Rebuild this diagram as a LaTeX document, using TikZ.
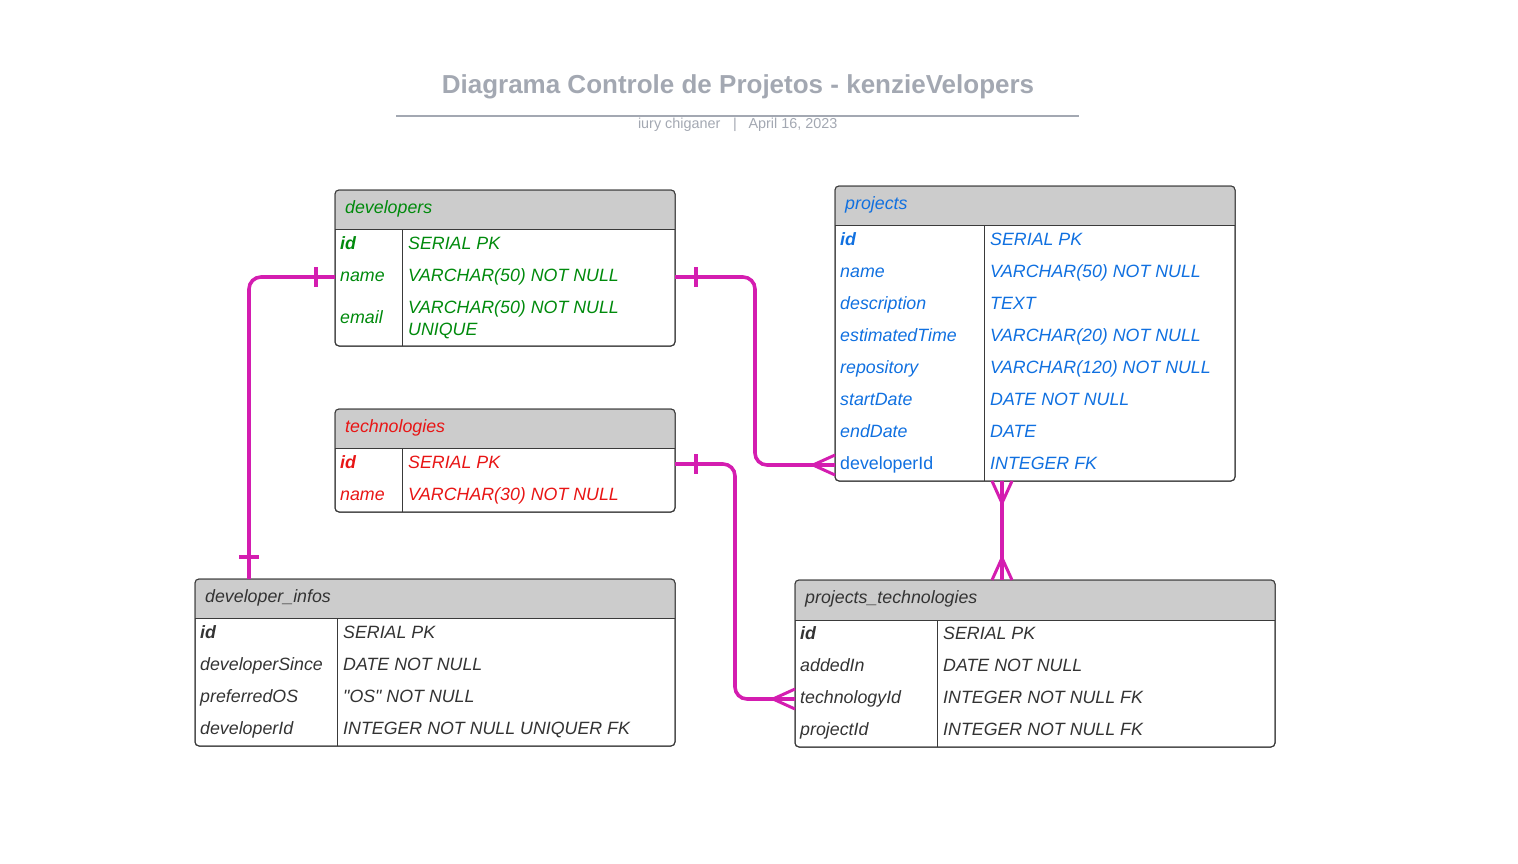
\documentclass[tikz,border=0pt]{standalone}
\usepackage{fontspec}
\setmainfont{Liberation Sans}[Ligatures=TeXOff]
\usetikzlibrary{calc}
\definecolor{ttlc}{HTML}{A3A8B2}
\definecolor{grnc}{HTML}{008A0C}
\definecolor{bluc}{HTML}{1070E0}
\definecolor{redc}{HTML}{E81515}
\definecolor{drkc}{HTML}{333333}
\definecolor{bordc}{HTML}{3A3A3A}
\definecolor{hdrc}{HTML}{CCCCCC}
\definecolor{relc}{HTML}{D41DB0}
\tikzset{
  x=1pt, y=-1pt,
  tblbox/.style={draw=bordc, line width=1pt, rounded corners=4pt, outer sep=0pt, inner sep=0pt, anchor=north west},
  divl/.style={draw=bordc, line width=1pt},
  cell/.style={anchor=base west, inner sep=0pt, font=\fontsize{17.8}{21}\selectfont\itshape},
  keyb/.style={cell, font=\fontsize{17.8}{21}\selectfont\bfseries\itshape},
  subt/.style={font=\fontsize{14.4}{16}\selectfont, text=ttlc},
  rel/.style={draw=relc, line width=3.6pt},
}
\newcommand\mytable[7]{% name, x, y, w, h, header height, divider offset
  \node[tblbox, minimum width=#4pt, minimum height=#5pt] (#1) at (#2,#3) {};
  \begin{scope}
    \clip[rounded corners=4pt] (#1.north west) rectangle (#1.south east);
    \fill[hdrc] (#1.north west) rectangle ([yshift=-#6pt]#1.north east);
  \end{scope}
  \draw[divl] ([yshift=-#6pt]#1.north west) -- ([yshift=-#6pt]#1.north east);
  \draw[divl] ([xshift=#7pt,yshift=-#6pt]#1.north west) -- ([xshift=#7pt]#1.south west);
  \node[tblbox, minimum width=#4pt, minimum height=#5pt, fill=none] at (#2,#3) {};
}
\newcommand\crowH[2]{% end point, direction (+1 box on right, -1 box on left)
  \draw[rel, line width=3pt] (#1) ++(-22*#2,0) -- ++(22*#2,-10) (#1) ++(-22*#2,0) -- ++(22*#2,10);}
\newcommand\crowV[2]{% end point, direction (+1 box below, -1 box above)
  \draw[rel, line width=3pt] (#1) ++(0,-22*#2) -- ++(-10,22*#2) (#1) ++(0,-22*#2) -- ++(10,22*#2);}
\begin{document}
\begin{tikzpicture}
\useasboundingbox (0,0) rectangle (1518,863);
% title
\node[font=\fontsize{26}{30}\selectfont\bfseries, text=ttlc, anchor=base] (title) at (738,93) {Diagrama Controle de Projetos - kenzieVelopers};
\draw[ttlc, line width=2pt] (396,116) -- (1079,116);
\node[subt, anchor=base east] (auth) at (724,128) {iury chiganer};
\node[subt, anchor=base] (sep) at (735,128) {|};
\node[subt, anchor=base west] (date) at (745,128) {April 16, 2023};

% developers
\mytable{dev}{335}{190}{340}{156}{39}{67}
\begin{scope}[text=grnc]
\node[cell] (devh) at (345,213) {developers};
\node[keyb] (devidk) at (340,249) {id};
\node[cell] (devidv) at (408,249) {SERIAL PK};
\node[cell] (devnamek) at (340,281) {name};
\node[cell] (devnamev) at (408,281) {VARCHAR(50) NOT NULL};
\node[cell] (devemailk) at (340,323) {email};
\node[cell] (devemailv) at (408,313) {VARCHAR(50) NOT NULL};
\node[cell] (devemailv2) at (408,335) {UNIQUE};
\end{scope}

% projects
\mytable{proj}{835}{186}{400}{295}{39}{149}
\begin{scope}[text=bluc]
\node[cell] (projh) at (845,209) {projects};
\node[keyb] (pidk) at (840,245) {id};
\node[cell] (pidv) at (990,245) {SERIAL PK};
\node[cell] (pnamek) at (840,277) {name};
\node[cell] (pnamev) at (990,277) {VARCHAR(50) NOT NULL};
\node[cell] (pdesck) at (840,309) {description};
\node[cell] (pdescv) at (990,309) {TEXT};
\node[cell] (pestk) at (840,341) {estimatedTime};
\node[cell] (pestv) at (990,341) {VARCHAR(20) NOT NULL};
\node[cell] (prepk) at (840,373) {repository};
\node[cell] (prepv) at (990,373) {VARCHAR(120) NOT NULL};
\node[cell] (pstartk) at (840,405) {startDate};
\node[cell] (pstartv) at (990,405) {DATE NOT NULL};
\node[cell] (pendk) at (840,437) {endDate};
\node[cell] (pendv) at (990,437) {DATE};
\node[cell, font=\fontsize{17.8}{21}\selectfont\upshape] (pdevk) at (840,469) {developerId};
\node[cell] (pdevv) at (990,469) {INTEGER FK};
\end{scope}

% technologies
\mytable{tech}{335}{409}{340}{103}{39}{67}
\begin{scope}[text=redc]
\node[cell] (techh) at (345,432) {technologies};
\node[keyb] (tidk) at (340,468) {id};
\node[cell] (tidv) at (408,468) {SERIAL PK};
\node[cell] (tnamek) at (340,500) {name};
\node[cell] (tnamev) at (408,500) {VARCHAR(30) NOT NULL};
\end{scope}

% developer_infos
\mytable{dinf}{195}{579}{480}{167}{39}{142}
\begin{scope}[text=drkc]
\node[cell] (dinfh) at (205,602) {developer\_infos};
\node[keyb] (diidk) at (200,638) {id};
\node[cell] (diidv) at (343,638) {SERIAL PK};
\node[cell] (disincek) at (200,670) {developerSince};
\node[cell] (disincev) at (343,670) {DATE NOT NULL};
\node[cell] (diosk) at (200,702) {preferredOS};
\node[cell] (diosv) at (343,702) {"OS" NOT NULL};
\node[cell] (didevk) at (200,734) {developerId};
\node[cell] (didevv) at (343,734) {INTEGER NOT NULL UNIQUER FK};
\end{scope}

% projects_technologies
\mytable{pt}{795}{580}{480}{167}{40}{142}
\begin{scope}[text=drkc]
\node[cell] (pth) at (805,603) {projects\_technologies};
\node[keyb] (ptidk) at (800,639) {id};
\node[cell] (ptidv) at (943,639) {SERIAL PK};
\node[cell] (ptaddk) at (800,671) {addedIn};
\node[cell] (ptaddv) at (943,671) {DATE NOT NULL};
\node[cell] (pttechk) at (800,703) {technologyId};
\node[cell] (pttechv) at (943,703) {INTEGER NOT NULL FK};
\node[cell] (ptprojk) at (800,735) {projectId};
\node[cell] (ptprojv) at (943,735) {INTEGER NOT NULL FK};
\end{scope}

% attachment points
\coordinate (devL) at ([yshift=-87pt]dev.north west);
\coordinate (devR) at ([yshift=-87pt]dev.north east);
\coordinate (dinfT) at ([xshift=54pt]dinf.north west);
\coordinate (projL) at ([yshift=-279pt]proj.north west);
\coordinate (projB) at ([xshift=167pt]proj.south west);
\coordinate (techR) at ([yshift=-55pt]tech.north east);
\coordinate (ptL) at ([yshift=-119pt]pt.north west);
\coordinate (ptT) at ([xshift=207pt]pt.north west);

% connectors
\draw[rel, rounded corners=12pt] (devL) -| (dinfT);
\draw[rel] ([xshift=-19pt]devL) ++(0,-10) -- ++(0,20);
\draw[rel] ([yshift=22pt]dinfT) ++(-10,0) -- ++(20,0);

\draw[rel, rounded corners=12pt] (devR) -| ([xshift=-80pt]projL) -- (projL);
\draw[rel] ([xshift=21pt]devR) ++(0,-10) -- ++(0,20);
\crowH{projL}{1}

\draw[rel, rounded corners=12pt] (techR) -| ([xshift=-60pt]ptL) -- (ptL);
\draw[rel] ([xshift=21pt]techR) ++(0,-10) -- ++(0,20);
\crowH{ptL}{1}

\draw[rel] (projB) -- (ptT);
\crowV{projB}{-1}
\crowV{ptT}{1}
\end{tikzpicture}
\end{document}
